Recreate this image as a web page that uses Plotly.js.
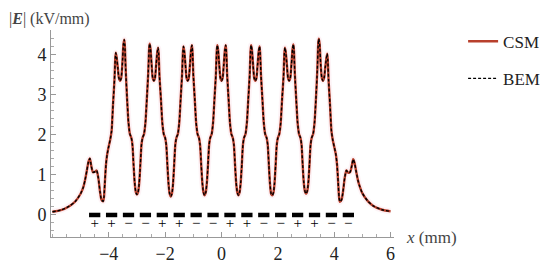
<!DOCTYPE html>
<html>
<head>
<meta charset="utf-8">
<script src="https://cdn.plot.ly/plotly-3.0.1.min.js"></script>
<style>
  html, body { margin: 0; padding: 0; background: #fff; }
  #plot { width: 550px; height: 264px; }
</style>
</head>
<body>
<div id="plot"></div>
<script>
// positions along the electrode array (mm)
var posX = [
  -6.00, -5.70, -5.40, -5.20, -5.00, -4.90, -4.84, -4.78, -4.72, -4.67,
  -4.62, -4.56, -4.49, -4.43, -4.37, -4.31, -4.26, -4.20,
  -4.17, -4.14, -4.10, -4.06, -4.00, -3.95, -3.90, -3.85, -3.80, -3.77, -3.75, -3.72, -3.68, -3.64,
  -3.60, -3.56, -3.52, -3.48, -3.45, -3.43, -3.40, -3.35, -3.30, -3.25, -3.20, -3.16, -3.12, -3.08, -3.04, -3.00,
  -2.96, -2.92, -2.88, -2.84, -2.80, -2.75, -2.70, -2.65, -2.60, -2.57, -2.55, -2.52, -2.48, -2.44,
  -2.40, -2.36, -2.32, -2.28, -2.25, -2.23, -2.20, -2.15, -2.10, -2.05, -2.00, -1.96, -1.92, -1.88, -1.84, -1.80,
  -1.76, -1.72, -1.68, -1.64, -1.60, -1.55, -1.50, -1.45, -1.40, -1.37, -1.35, -1.32, -1.28, -1.24,
  -1.20, -1.16, -1.12, -1.08, -1.05, -1.03, -1.00, -0.95, -0.90, -0.85, -0.80, -0.76, -0.72, -0.68, -0.64, -0.60,
  -0.56, -0.52, -0.48, -0.44, -0.40, -0.35, -0.30, -0.25, -0.20, -0.17, -0.15, -0.12, -0.08, -0.04,
  0.00, 0.04, 0.08, 0.12, 0.15, 0.17, 0.20, 0.25, 0.30, 0.35, 0.40, 0.44, 0.48, 0.52, 0.56, 0.60,
  0.64, 0.68, 0.72, 0.76, 0.80, 0.85, 0.90, 0.95, 1.00, 1.03, 1.05, 1.08, 1.12, 1.16,
  1.20, 1.24, 1.28, 1.32, 1.35, 1.37, 1.40, 1.45, 1.50, 1.55, 1.60, 1.64, 1.68, 1.72, 1.76, 1.80,
  1.84, 1.88, 1.92, 1.96, 2.00, 2.05, 2.10, 2.15, 2.20, 2.23, 2.25, 2.28, 2.32, 2.36,
  2.40, 2.44, 2.48, 2.52, 2.55, 2.57, 2.60, 2.65, 2.70, 2.75, 2.80, 2.84, 2.88, 2.92, 2.96, 3.00,
  3.04, 3.08, 3.12, 3.16, 3.20, 3.25, 3.30, 3.35, 3.40, 3.43, 3.45, 3.48, 3.52, 3.56,
  3.60, 3.64, 3.68, 3.72, 3.75, 3.77, 3.80, 3.85, 3.90, 3.95, 4.00, 4.06, 4.10, 4.14, 4.17, 4.20,
  4.26, 4.31, 4.37, 4.43, 4.49, 4.56, 4.62, 4.67, 4.72, 4.78, 4.84, 4.90, 5.00, 5.20, 5.40, 5.70, 6.00
];

// |E| (kV/mm), charge simulation method
var csmE = [
  0.08, 0.12, 0.22, 0.33, 0.53, 0.70, 0.88, 1.10, 1.33, 1.41,
  1.22, 1.07, 1.08, 1.11, 0.92, 0.58, 0.38, 0.34,
  0.45, 0.80, 1.25, 1.50, 1.72, 1.88, 2.10, 2.75, 3.35, 3.90, 4.05, 3.93, 3.68, 3.42,
  3.35, 3.42, 3.75, 4.26, 4.38, 4.23, 3.63, 2.90, 2.30, 2.02, 1.93, 1.75, 1.25, 0.80, 0.57, 0.51,
  0.57, 0.80, 1.25, 1.75, 1.93, 2.02, 2.30, 2.90, 3.55, 4.13, 4.28, 4.16, 3.75, 3.42,
  3.35, 3.42, 3.75, 4.06, 4.18, 4.03, 3.45, 2.90, 2.30, 2.02, 1.93, 1.75, 1.25, 0.78, 0.53, 0.46,
  0.53, 0.78, 1.25, 1.75, 1.93, 2.02, 2.30, 2.90, 3.50, 4.06, 4.21, 4.09, 3.75, 3.42,
  3.35, 3.42, 3.75, 4.12, 4.24, 4.09, 3.50, 2.90, 2.30, 2.02, 1.93, 1.75, 1.25, 0.80, 0.56, 0.49,
  0.56, 0.80, 1.25, 1.75, 1.93, 2.02, 2.30, 2.90, 3.50, 4.09, 4.24, 4.12, 3.75, 3.42,
  3.35, 3.42, 3.75, 4.12, 4.24, 4.09, 3.50, 2.90, 2.30, 2.02, 1.93, 1.75, 1.25, 0.80, 0.56, 0.49,
  0.56, 0.80, 1.25, 1.75, 1.93, 2.02, 2.30, 2.90, 3.50, 4.09, 4.24, 4.12, 3.75, 3.42,
  3.35, 3.42, 3.75, 4.09, 4.21, 4.06, 3.50, 2.90, 2.30, 2.02, 1.93, 1.75, 1.25, 0.78, 0.53, 0.49,
  0.55, 0.78, 1.25, 1.75, 1.93, 2.02, 2.30, 2.90, 3.45, 4.03, 4.18, 4.06, 3.75, 3.42,
  3.35, 3.42, 3.75, 4.14, 4.26, 4.11, 3.55, 2.90, 2.30, 2.02, 1.93, 1.75, 1.25, 0.80, 0.59, 0.53,
  0.59, 0.80, 1.25, 1.75, 1.93, 2.02, 2.30, 2.90, 3.63, 4.25, 4.40, 4.28, 3.75, 3.42,
  3.35, 3.42, 3.68, 3.91, 4.03, 3.88, 3.35, 2.75, 2.10, 1.86, 1.70, 1.50, 1.25, 0.80, 0.45, 0.33,
  0.38, 0.58, 0.92, 1.11, 1.06, 1.07, 1.22, 1.39, 1.30, 1.08, 0.87, 0.72, 0.54, 0.34, 0.22, 0.13, 0.09
];

// boundary element method (coincides with CSM at this scale)
var bemE = csmE.slice();

// electrodes: left / right edges (mm) and polarity
var elecLeft  = [-4.7, -4.1, -3.5, -2.9, -2.3, -1.7, -1.1, -0.5, 0.1, 0.7, 1.3, 1.9, 2.5, 3.1, 3.7, 4.3];
var elecRight = [-4.3, -3.7, -3.1, -2.5, -1.9, -1.3, -0.7, -0.1, 0.5, 1.1, 1.7, 2.3, 2.9, 3.5, 4.1, 4.7];
var elecSign  = ['+', '+', '\u2212', '\u2212', '+', '+', '\u2212', '\u2212',
                 '+', '+', '\u2212', '\u2212', '+', '+', '\u2212', '\u2212'];

var barX = [], barY = [], signX = [], signY = [];
for (var i = 0; i < elecLeft.length; i++) {
  barX.push(elecLeft[i], elecRight[i], null);
  barY.push(0, 0, null);
  signX.push((elecLeft[i] + elecRight[i]) / 2);
  signY.push(-0.22);
}

var serif = "'Liberation Serif', 'Times New Roman', serif";

var glow = {
  x: posX, y: csmE, mode: 'lines', type: 'scatter',
  line: {color: 'rgba(240,140,170,0.10)', width: 6, shape: 'spline', smoothing: 0.6},
  showlegend: false, hoverinfo: 'skip'
};

var traceCSM = {
  x: posX, y: csmE, mode: 'lines', type: 'scatter', name: 'CSM',
  legendgroup: 'csm',
  line: {color: '#b8402c', width: 2.4, shape: 'spline', smoothing: 0.6}
};

var traceBEM = {
  x: posX, y: bemE, mode: 'lines', type: 'scatter', name: 'BEM',
  legendgroup: 'bem',
  line: {color: '#000', width: 1.4, dash: '3px,2px', shape: 'spline', smoothing: 0.6}
};

var electrodes = {
  x: barX, y: barY, mode: 'lines', type: 'scatter',
  line: {color: '#000', width: 4.5}, showlegend: false, hoverinfo: 'skip'
};

var signs = {
  x: signX, y: signY, mode: 'text', type: 'scatter', text: elecSign,
  textfont: {family: serif, size: 15, color: '#000'},
  showlegend: false, hoverinfo: 'skip'
};

var layout = {
  width: 550, height: 264,
  margin: {l: 51, r: 156, t: 30, b: 27},
  paper_bgcolor: '#fff', plot_bgcolor: '#fff',
  font: {family: serif, size: 17, color: '#222'},
  showlegend: true,
  legend: {
    xref: 'container', yref: 'container',
    x: 0.842, y: 0.91, xanchor: 'left', yanchor: 'top',
    font: {family: serif, size: 17, color: '#222'},
    tracegroupgap: 12, bgcolor: 'rgba(0,0,0,0)'
  },
  xaxis: {
    range: [-6.05, 6.12],
    tickvals: [-4, -2, 0, 2, 4, 6],
    showgrid: false, zeroline: false,
    showline: true, linecolor: '#999', linewidth: 1,
    ticks: 'inside', ticklen: 5, tickcolor: '#999',
    minor: {dtick: 0.5, tick0: 0, ticks: 'inside', ticklen: 3, tickcolor: '#aaa'},
    tickfont: {family: serif, size: 18, color: '#222'}
  },
  yaxis: {
    range: [-0.55, 4.62],
    tickvals: [0, 1, 2, 3, 4],
    showgrid: false, zeroline: false,
    showline: true, linecolor: '#999', linewidth: 1,
    ticks: 'inside', ticklen: 5, tickcolor: '#999',
    minor: {dtick: 0.2, tick0: 0, ticks: 'inside', ticklen: 3, tickcolor: '#aaa'},
    tickfont: {family: serif, size: 18, color: '#222'}
  },
  annotations: [
    {text: '|<b><i>E</i></b>| (kV/mm)', xref: 'paper', yref: 'paper',
     x: -0.128, y: 1.0, xanchor: 'left', yanchor: 'bottom', showarrow: false,
     font: {family: serif, size: 16, color: '#444'}},
    {text: '<i>x</i> (mm)', xref: 'paper', yref: 'paper',
     x: 1.03, y: 0.0, xanchor: 'left', yanchor: 'middle', showarrow: false,
     font: {family: serif, size: 17, color: '#444'}}
  ]
};

Plotly.newPlot('plot', [glow, traceCSM, traceBEM, electrodes, signs], layout, {displayModeBar: false, staticPlot: true});
</script>
</body>
</html>
